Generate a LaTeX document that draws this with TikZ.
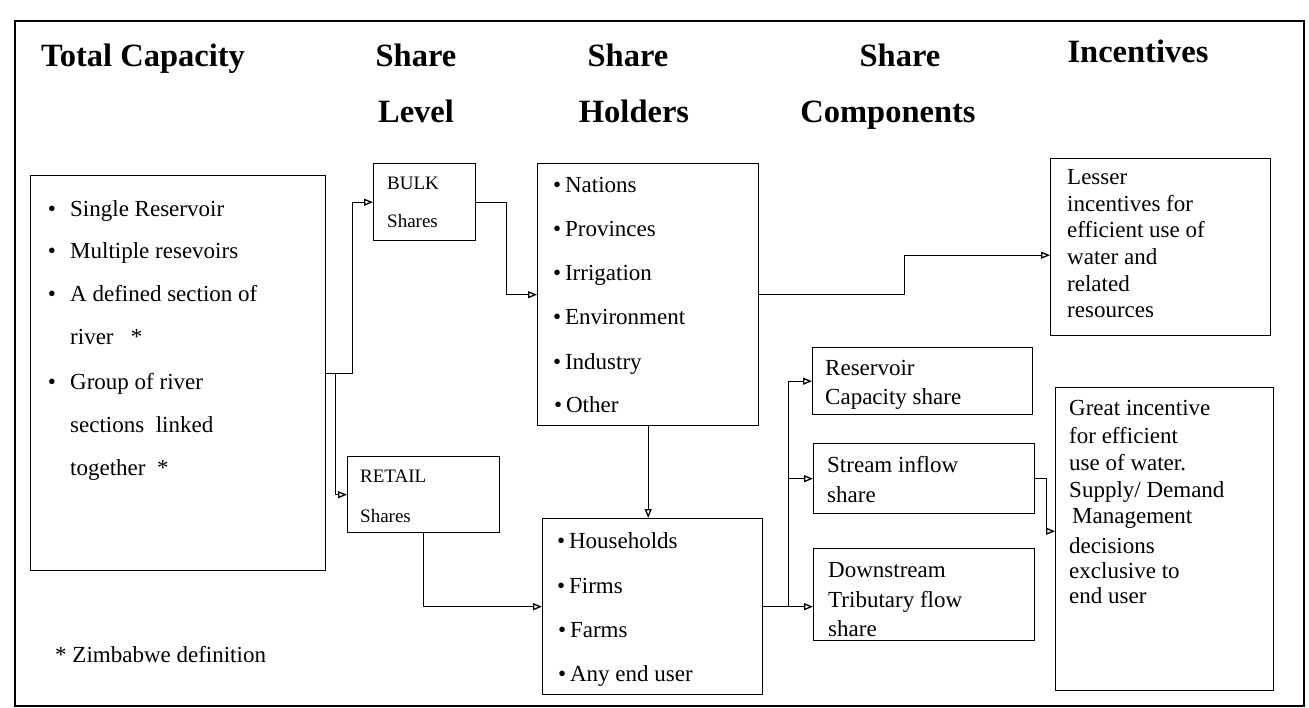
\documentclass[tikz,border=0pt]{standalone}
\usepackage{fontspec}
\setmainfont{Liberation Serif}
\usetikzlibrary{arrows.meta}
\begin{document}
\begin{tikzpicture}[x=1pt,y=-1pt,
  box/.style={draw, line width=1.4pt, inner sep=0pt, anchor=north west},
  ar/.style={line width=1.3pt, -{Triangle[open,length=9pt,width=7pt]}},
  ttl/.style={font=\fontsize{32.5}{33}\selectfont\bfseries, anchor=base, inner sep=0pt},
  tx/.style={font=\fontsize{23}{28}\selectfont, anchor=base west, inner sep=0pt},
  sm/.style={font=\fontsize{19}{22}\selectfont, anchor=base west, inner sep=0pt},
  bl/.style={font=\fontsize{23}{28}\selectfont, anchor=base, inner sep=0pt}]
\useasboundingbox (0,0) rectangle (1309,708);
\node[box, line width=1.6pt, minimum width=1289pt, minimum height=685pt] (frame) at (14,20) {};
% titles
\node[ttl] (t1) at (143,67) {Total Capacity};
\node[ttl] (t2) at (416,67) {Share};
\node[ttl] (t3) at (416,123) {Level};
\node[ttl] (t4) at (628,67) {Share};
\node[ttl] (t5) at (634,123) {Holders};
\node[ttl] (t6) at (900,67) {Share};
\node[ttl] (t7) at (888,123) {Components};
\node[ttl] (t8) at (1138,63) {Incentives};
% boxes
\node[box, minimum width=295pt, minimum height=395pt] (tot) at (30,175) {};
\node[box, minimum width=102pt, minimum height=77pt] (bulk) at (373,163) {};
\node[box, minimum width=152pt, minimum height=76pt] (retail) at (347,456) {};
\node[box, minimum width=221pt, minimum height=262pt] (hold) at (537,163) {};
\node[box, minimum width=220pt, minimum height=176pt] (house) at (542,518) {};
\node[box, minimum width=220pt, minimum height=67pt] (res) at (812,347) {};
\node[box, minimum width=221pt, minimum height=70pt] (stream) at (813,443) {};
\node[box, minimum width=221pt, minimum height=92pt] (down) at (813,548) {};
\node[box, minimum width=220pt, minimum height=177pt] (less) at (1050,158) {};
\node[box, minimum width=218pt, minimum height=303pt] (great) at (1055,387) {};
% total capacity text
\node[bl] (b1) at (52,217) {\textbullet};
\node[tx] (a1) at (70,217) {Single Reservoir};
\node[bl] (b2) at (52,259) {\textbullet};
\node[tx] (a2) at (70,259) {Multiple resevoirs};
\node[bl] (b3) at (52,302) {\textbullet};
\node[tx] (a3) at (70,302) {A defined section of};
\node[tx] (a4) at (70,345) {river\ \ \ *};
\node[bl] (b5) at (52,390) {\textbullet};
\node[tx] (a5) at (70,390) {Group of river};
\node[tx] (a6) at (70,432) {sections\ \ linked};
\node[tx] (a7) at (70,475) {together\ \ *};
\node[tx] (fn) at (55,662) {* Zimbabwe definition};
% bulk / retail
\node[sm] (bk1) at (387,190) {BULK};
\node[sm] (bk2) at (387,228) {Shares};
\node[sm] (rt1) at (360,482) {RETAIL};
\node[sm] (rt2) at (360,522) {Shares};
% holders
\node[tx] (h1) at (553,193) {\textbullet\,Nations};
\node[tx] (h2) at (553,237) {\textbullet\,Provinces};
\node[tx] (h3) at (553,281) {\textbullet\,Irrigation};
\node[tx] (h4) at (553,325) {\textbullet\,Environment};
\node[tx] (h5) at (553,370) {\textbullet\,Industry};
\node[tx] (h6) at (554,413) {\textbullet\,Other};
\node[tx] (u1) at (557,548) {\textbullet\,Households};
\node[tx] (u2) at (557,593) {\textbullet\,Firms};
\node[tx] (u3) at (558,637) {\textbullet\,Farms};
\node[tx] (u4) at (558,681) {\textbullet\,Any end user};
% components
\node[tx] (c1) at (825,376) {Reservoir};
\node[tx] (c2) at (825,405) {Capacity share};
\node[tx] (c3) at (827,472) {Stream inflow};
\node[tx] (c4) at (827,502) {share};
\node[tx] (c5) at (828,577) {Downstream};
\node[tx] (c6) at (828,607) {Tributary flow};
\node[tx] (c7) at (828,636) {share};
% incentives
\node[tx] (l1) at (1067,185) {Lesser};
\node[tx] (l2) at (1067,212) {incentives for};
\node[tx] (l3) at (1067,238) {efficient use of};
\node[tx] (l4) at (1067,265) {water and};
\node[tx] (l5) at (1067,292) {related};
\node[tx] (l6) at (1067,318) {resources};
\node[tx] (g1) at (1069,415) {Great incentive};
\node[tx] (g2) at (1069,443) {for efficient};
\node[tx] (g3) at (1069,470) {use of water.};
\node[tx] (g4) at (1069,497) {Supply/ Demand};
\node[tx] (g5) at (1072,523) {Management};
\node[tx] (g6) at (1069,553) {decisions};
\node[tx] (g7) at (1069,578) {exclusive to};
\node[tx] (g8) at (1069,603) {end user};
% connectors
\draw[ar] (tot.east) -- ++(26,0) |- (bulk.west);
\draw[ar] (tot.east) ++(9,0) |- (retail.west);
\draw[ar] (bulk.east) -- ++(30,0) |- (hold.west);
\draw[ar] (hold.east) -- ++(145,0) |- ([yshift=-8pt]less.west);
\draw[ar] (hold.south) -- (hold.south |- house.north);
\draw[ar] (retail.south) |- (house.west);
\draw[ar] (house.east) -- (house.east -| down.west);
\coordinate (j) at ([xshift=25pt]house.east);
\draw[ar] (j) |- (res.west);
\draw[ar] (j |- stream.west) -- (stream.west);
\draw[ar] (stream.east) -- ++(11,0) |- ([yshift=8pt]great.west);
\end{tikzpicture}
\end{document}
